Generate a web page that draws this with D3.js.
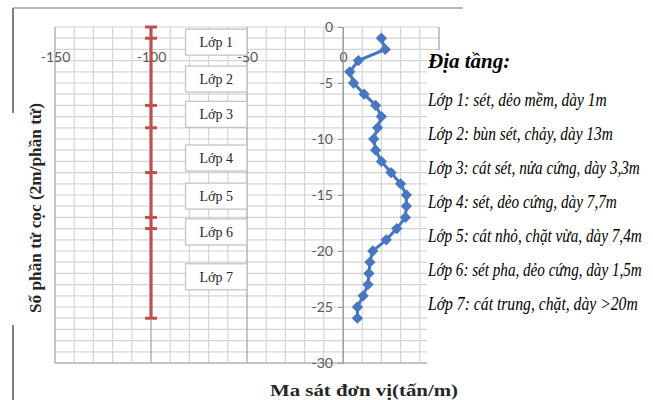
<!DOCTYPE html>
<html>
<head>
<meta charset="utf-8">
<script src="https://cdn.jsdelivr.net/npm/d3@7"></script>
<style>
    body { margin: 0; background: #fff; }
    svg { display: block; }
    .tick text { font-family: Lato, "Liberation Sans", sans-serif; font-size: 14px; fill: #595959; }
    .serif { font-family: "Liberation Serif", "Times New Roman", serif; }
</style>
</head>
<body>
<div id="chart"></div>
<script>
// Element numbers along the pile (negative = depth)
const elements = d3.range(-1, -27, -1);
// Unit friction per element (tấn/m)
const friction = [20, 22, 8, 3.5, 5.5, 11, 17, 20, 18, 16, 17, 20, 25, 30, 33, 33, 32.5, 28, 22.5, 15.5, 14, 13.5, 13, 10.5, 7.5, 7.5];
// Layer boundaries drawn on the red pile line
const pileX = -100;
const layerBounds = [0, -1, -7, -9, -13, -17, -18, -26];
// Layer labels and where they sit (data units)
const layerNames = ['Lớp 1', 'Lớp 2', 'Lớp 3', 'Lớp 4', 'Lớp 5', 'Lớp 6', 'Lớp 7'];
const layerLabelY = [-1.35, -4.65, -7.8, -11.7, -15.1, -18.3, -22.3];
const layerLabelX = [-82, -50];
// Axis ticks (the 50 label sits under the text panel in the original)
const xTicks = [-150, -100, -50, 0];
const yTicks = [0, -5, -10, -15, -20, -25, -30];
// Legend text on the right
const legendTitle = 'Địa tầng:';
const legendLines = [
    'Lớp 1: sét, dẻo mềm, dày 1m',
    'Lớp 2: bùn sét, chảy, dày 13m',
    'Lớp 3: cát sét, nửa cứng, dày 3,3m',
    'Lớp 4: sét, dẻo cứng, dày 7,7m',
    'Lớp 5: cát nhỏ, chặt vừa, dày 7,4m',
    'Lớp 6: sét pha, dẻo cứng, dày 1,5m',
    'Lớp 7: cát trung, chặt, dày >20m'
];
const legendWidths = [179, 185, 212, 189, 214, 214, 210];

const W = 653, H = 400;
const plot = { left: 55, right: 439, top: 27, bottom: 363 };

const svg = d3.select('#chart').append('svg')
    .attr('width', W)
    .attr('height', H);

const x = d3.scaleLinear().domain([-150, 50]).range([plot.left, plot.right]);
const y = d3.scaleLinear().domain([0, -30]).range([plot.top, plot.bottom]);

// Frame pieces
svg.append('line').attr('x1', 13).attr('x2', 463).attr('y1', 8).attr('y2', 8)
    .attr('stroke', '#a6a6a6').attr('stroke-width', 1.5);
svg.append('line').attr('x1', 13).attr('x2', 13).attr('y1', 8).attr('y2', 113)
    .attr('stroke', '#7f7f7f').attr('stroke-width', 2);
svg.append('line').attr('x1', 13).attr('x2', 13).attr('y1', 325).attr('y2', 400)
    .attr('stroke', '#7f7f7f').attr('stroke-width', 2);

// Grid
const grid = svg.append('g');
grid.selectAll('.hgrid')
    .data(d3.range(0, -31, -1))
    .join('line')
    .attr('x1', plot.left).attr('x2', plot.right)
    .attr('y1', d => y(d)).attr('y2', d => y(d))
    .attr('stroke', '#d4d4d4').attr('stroke-width', 1.2);
grid.selectAll('.vgrid')
    .data(d3.range(-150, 51, 10))
    .join('line')
    .attr('x1', d => x(d)).attr('x2', d => x(d))
    .attr('y1', plot.top).attr('y2', plot.bottom)
    .attr('stroke', d => d % 50 === 0 ? '#a0a0a0' : '#d4d4d4')
    .attr('stroke-width', 1.2);
grid.append('line')
    .attr('x1', plot.left).attr('x2', plot.right)
    .attr('y1', plot.bottom).attr('y2', plot.bottom)
    .attr('stroke', '#a0a0a0').attr('stroke-width', 1.2);

// Axes
const xAxis = svg.append('g')
    .attr('transform', `translate(0,${y(-2)})`)
    .call(d3.axisBottom(x).tickValues(xTicks).tickSize(0).tickPadding(3).tickFormat(d => String(d)));
xAxis.select('.domain').remove();

const yAxis = svg.append('g')
    .attr('transform', `translate(${x(0)},0)`)
    .call(d3.axisLeft(y).tickValues(yTicks).tickSize(5).tickPadding(5).tickFormat(d => String(d)));
yAxis.select('.domain').attr('stroke', '#a0a0a0');
yAxis.selectAll('.tick line').attr('stroke', '#a0a0a0');

// Pile line (red)
svg.append('path')
    .datum(layerBounds)
    .attr('fill', 'none')
    .attr('stroke', '#c0504d')
    .attr('stroke-width', 3.2)
    .attr('d', d3.line().x(() => x(pileX)).y(d => y(d)));
svg.selectAll('.cap')
    .data(layerBounds)
    .join('line')
    .attr('x1', x(pileX) - 6).attr('x2', x(pileX) + 6)
    .attr('y1', d => y(d)).attr('y2', d => y(d))
    .attr('stroke', '#c0504d').attr('stroke-width', 3);

// Layer boxes
const boxW = x(layerLabelX[1]) - x(layerLabelX[0]);
const boxes = svg.selectAll('.layerbox')
    .data(layerNames)
    .join('g')
    .attr('transform', (d, i) => `translate(${x(layerLabelX[0])},${y(layerLabelY[i])})`);
boxes.append('rect')
    .attr('x', 0).attr('y', -13)
    .attr('width', boxW)
    .attr('height', 26)
    .attr('fill', '#fff')
    .attr('stroke', '#c4c4c4')
    .attr('stroke-width', 1.3);
boxes.append('text')
    .attr('class', 'serif')
    .attr('x', boxW / 2)
    .attr('y', 5)
    .attr('text-anchor', 'middle')
    .attr('font-size', 14)
    .attr('fill', '#262626')
    .text(d => d);

// Friction series (blue)
svg.append('path')
    .datum(friction)
    .attr('fill', 'none')
    .attr('stroke', '#4677c0')
    .attr('stroke-width', 3)
    .attr('d', d3.line().x(d => x(d)).y((d, i) => y(elements[i])));
svg.selectAll('.dot')
    .data(friction)
    .join('path')
    .attr('d', d3.symbol(d3.symbolSquare, 64))
    .attr('transform', (d, i) => `translate(${x(d)},${y(elements[i])}) rotate(45)`)
    .attr('fill', '#4677c0');

// Right-hand panel with soil description
svg.append('rect')
    .attr('x', 427).attr('y', 50)
    .attr('width', W - 427).attr('height', H - 50)
    .attr('fill', '#fff');
svg.append('text')
    .attr('class', 'serif')
    .attr('x', 428).attr('y', 68)
    .attr('font-size', 21)
    .attr('font-weight', 'bold')
    .attr('font-style', 'italic')
    .attr('fill', '#000')
    .text(legendTitle);
// The original face is narrow, so squeeze each line horizontally
svg.selectAll('.legline')
    .data(legendLines)
    .join('text')
    .attr('class', 'serif')
    .attr('font-size', 19)
    .attr('font-style', 'italic')
    .attr('fill', '#000')
    .text(d => d)
    .attr('transform', function(d, i) {
        const natural = this.getComputedTextLength();
        const k = legendWidths[i] / natural;
        return `translate(428,${106 + i * 34}) scale(${k},1)`;
    });

// Axis titles
svg.append('text')
    .attr('class', 'serif')
    .attr('transform', 'translate(41,208) rotate(-90)')
    .attr('text-anchor', 'middle')
    .attr('font-size', 16)
    .attr('font-weight', 'bold')
    .attr('fill', '#262626')
    .attr('textLength', 210)
    .attr('lengthAdjust', 'spacingAndGlyphs')
    .text('Số phần tử cọc (2m/phần tử)');
svg.append('text')
    .attr('class', 'serif')
    .attr('x', 270).attr('y', 396)
    .attr('font-size', 17)
    .attr('font-weight', 'bold')
    .attr('fill', '#262626')
    .attr('textLength', 188)
    .attr('lengthAdjust', 'spacingAndGlyphs')
    .text('Ma sát đơn vị(tấn/m)');
</script>
</body>
</html>
